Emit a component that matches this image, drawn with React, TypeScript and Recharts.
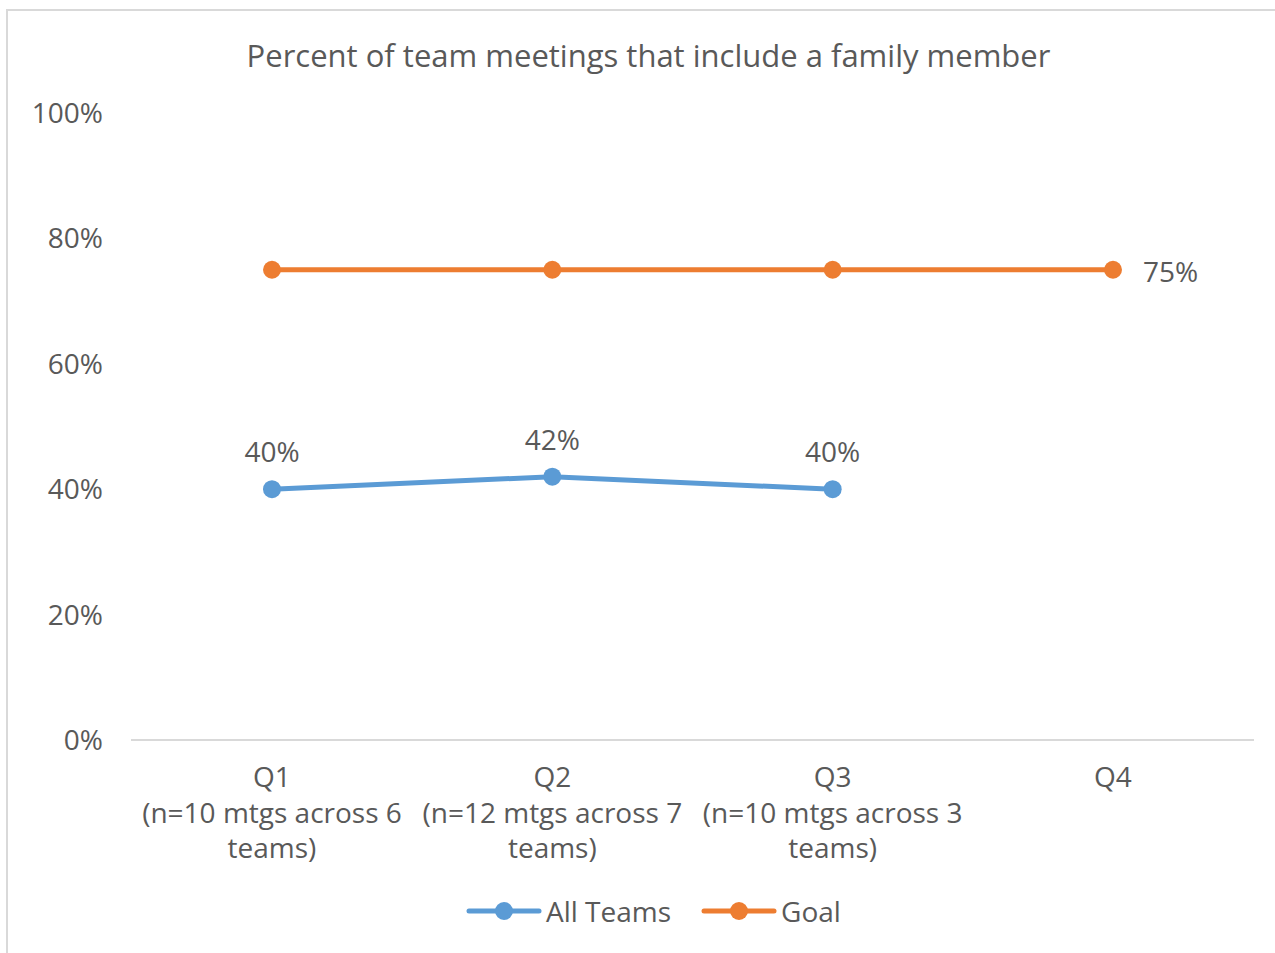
import React from "react";
import { LineChart, Line, XAxis, YAxis, Legend, LabelList } from "recharts";

const quarters = ["Q1", "Q2", "Q3", "Q4"];
const noteLine1 = ["(n=10 mtgs across 6", "(n=12 mtgs across 7", "(n=10 mtgs across 3", ""];
const noteLine2 = ["teams)", "teams)", "teams)", ""];
const allTeams = [0.4, 0.42, 0.4, null];
const goal = [0.75, 0.75, 0.75, 0.75];
const yTicks = [0, 0.2, 0.4, 0.6, 0.8, 1];

const data = quarters.map((q, i) => ({
  name: q,
  allTeams: allTeams[i],
  goal: goal[i],
}));

const FONT = "'Open Sans', 'Noto Sans', sans-serif";
const TEXT = "#595959";
const BLUE = "#5b9bd5";
const ORANGE = "#ed7d31";
const FS = 28;

const pct = (v: number) => `${Math.round(v * 100)}%`;

function QuarterTick(props: any) {
  const { x, y, payload } = props;
  const i = quarters.indexOf(payload.value);
  const lines = [payload.value, noteLine1[i], noteLine2[i]].filter(Boolean);
  return (
    <g>
      {lines.map((t, k) => (
        <text
          key={k}
          x={x}
          y={y + 28 + k * 35.5}
          textAnchor="middle"
          dominantBaseline="central"
          fill={TEXT}
          fontSize={FS}
          fontFamily={FONT}
        >
          {t}
        </text>
      ))}
    </g>
  );
}

function AboveLabel(props: any) {
  const { x, y, value } = props;
  if (value == null) return null;
  return (
    <text x={x} y={y - 38} textAnchor="middle" dominantBaseline="central" fill={TEXT} fontSize={FS} fontFamily={FONT}>
      {pct(value)}
    </text>
  );
}

function GoalLabel(props: any) {
  const { x, y, value, index } = props;
  if (index !== quarters.length - 1) return null;
  return (
    <text x={x + 30} y={y + 1} textAnchor="start" dominantBaseline="central" fill={TEXT} fontSize={FS} fontFamily={FONT}>
      {pct(value)}
    </text>
  );
}

function LegendBox() {
  const items = [
    { label: "All Teams", color: BLUE },
    { label: "Goal", color: ORANGE },
  ];
  return (
    <div style={{ display: "flex", alignItems: "center", height: 40, paddingLeft: 466 }}>
      {items.map((it) => (
        <div key={it.label} style={{ display: "flex", alignItems: "center", marginRight: 30 }}>
          <svg width={76} height={24}>
            <line x1={3} y1={12} x2={73} y2={12} stroke={it.color} strokeWidth={5} strokeLinecap="round" />
            <circle cx={38} cy={12} r={9} fill={it.color} />
          </svg>
          <span style={{ marginLeft: 4, fontFamily: FONT, fontSize: FS, color: TEXT }}>{it.label}</span>
        </div>
      ))}
    </div>
  );
}

export default function App() {
  return (
    <div style={{ position: "absolute", left: 0, top: 0, width: 1275, height: 953, overflow: "hidden", background: "#fff" }}>
      <div
        style={{
          position: "absolute",
          left: 6,
          top: 9,
          width: 1320,
          height: 1000,
          border: "2px solid #d9d9d9",
        }}
      />
      <div
        style={{
          position: "absolute",
          left: 0,
          top: 35,
          width: 1297,
          textAlign: "center",
          fontFamily: FONT,
          fontSize: 31,
          color: TEXT,
          lineHeight: "40px",
        }}
      >
        Percent of team meetings that include a family member
      </div>
      <div style={{ position: "absolute", left: 0, top: 0 }}>
        <LineChart width={1275} height={953} data={data} margin={{ top: 113, right: 21, bottom: 53, left: 0 }}>
          <XAxis
            dataKey="name"
            padding={{ left: 141, right: 141 }}
            height={120}
            axisLine={{ stroke: "#d9d9d9", strokeWidth: 2 }}
            tickLine={false}
            tick={<QuarterTick />}
            interval={0}
          />
          <YAxis
            width={131}
            domain={[0, 1]}
            ticks={yTicks}
            tickFormatter={pct}
            axisLine={false}
            tickLine={false}
            tickSize={6}
            tickMargin={22}
            tick={{ fill: TEXT, fontSize: FS, fontFamily: FONT }}
          />
          <Legend verticalAlign="bottom" height={40} wrapperStyle={{ top: 891, left: 0, width: 1275 }} content={<LegendBox />} />
          <Line
            dataKey="allTeams"
            name="All Teams"
            stroke={BLUE}
            strokeWidth={5}
            strokeLinecap="round"
            dot={{ r: 9, fill: BLUE, stroke: "none" }}
            activeDot={false}
            isAnimationActive={false}
          >
            <LabelList dataKey="allTeams" content={<AboveLabel />} />
          </Line>
          <Line
            dataKey="goal"
            name="Goal"
            stroke={ORANGE}
            strokeWidth={5}
            strokeLinecap="round"
            dot={{ r: 9, fill: ORANGE, stroke: "none" }}
            activeDot={false}
            isAnimationActive={false}
          >
            <LabelList dataKey="goal" content={<GoalLabel />} />
          </Line>
        </LineChart>
      </div>
    </div>
  );
}
